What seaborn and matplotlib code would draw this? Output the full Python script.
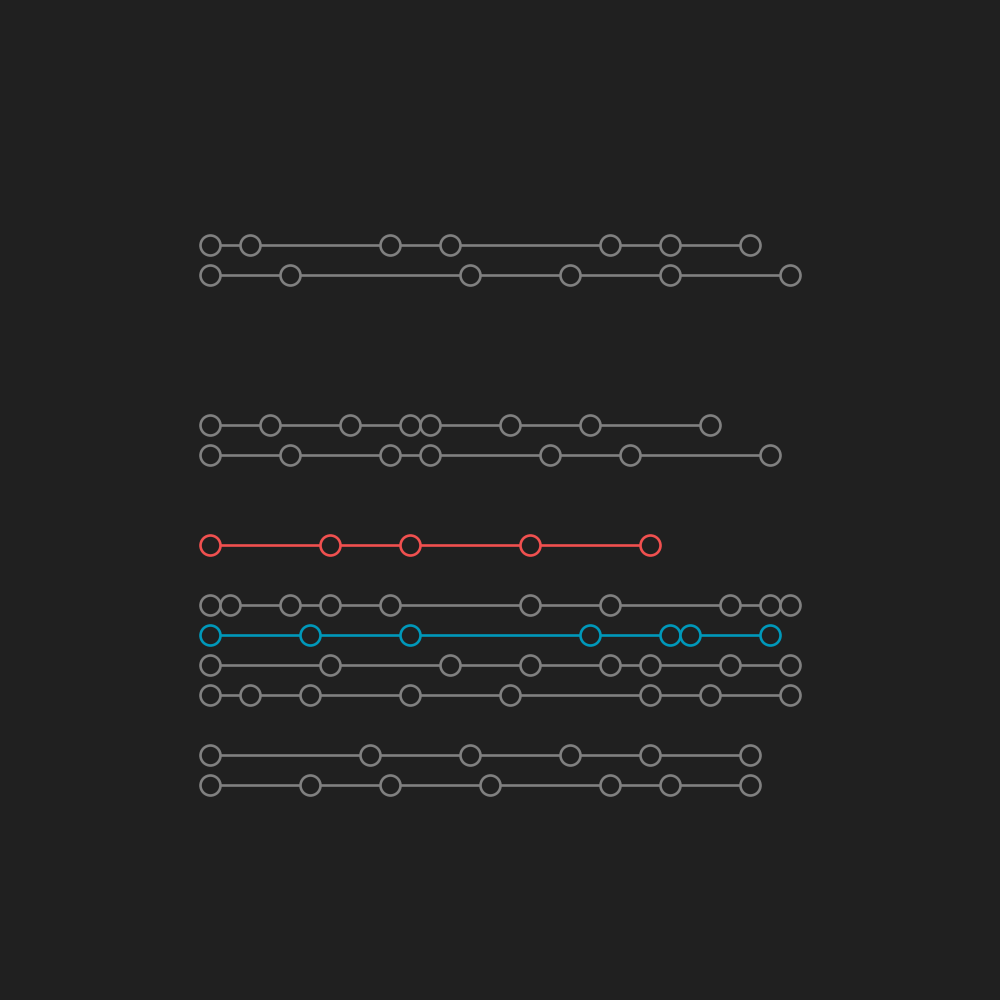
import pandas as pd
import matplotlib.pyplot as plt
import seaborn as sns

# row index -> event positions along the line
row_ids = [0, 1, 6, 7, 10, 12, 13, 14, 15, 17, 18]
row_positions = [
    [0, 2, 9, 12, 20, 23, 27],
    [0, 4, 13, 18, 23, 29],
    [0, 3, 7, 10, 11, 15, 19, 25],
    [0, 4, 9, 11, 17, 21, 28],
    [0, 6, 10, 16, 22],
    [0, 1, 4, 6, 9, 16, 20, 26, 28, 29],
    [0, 5, 10, 19, 23, 24, 28],
    [0, 6, 12, 16, 20, 22, 26, 29],
    [0, 2, 5, 10, 15, 22, 25, 29],
    [0, 8, 13, 18, 22, 27],
    [0, 5, 9, 14, 20, 23, 27],
]
row_groups = ["other", "other", "other", "other", "red", "other",
              "blue", "other", "other", "other", "other"]

bg = "#202020"
palette = {"other": "#808080", "red": "#f0504f", "blue": "#0098ba"}

records = []
for rid, pos, grp in zip(row_ids, row_positions, row_groups):
    for p in pos:
        records.append({"row": rid, "x": p, "group": grp})
df = pd.DataFrame(records)

sns.set_style("dark", {"axes.facecolor": bg, "figure.facecolor": bg})
fig = plt.figure(figsize=(10, 10), dpi=100, facecolor=bg)
ax = fig.add_axes([0, 0, 1, 1])
ax.set_facecolor(bg)

for rid, sub in df.groupby("row"):
    col = palette[sub["group"].iloc[0]]
    sns.lineplot(data=sub, x="x", y="row", estimator=None, sort=False,
                 color=col, linewidth=1.9, marker="o", markersize=14.4,
                 markerfacecolor=bg, markeredgecolor=col,
                 markeredgewidth=1.9, ax=ax)

ax.set_xlim(-10.5, 39.5)
ax.set_ylim(1000 / 30 - 245 / 30, -245 / 30)
ax.axis("off")

fig.savefig("out.png", dpi=100, facecolor=bg)
